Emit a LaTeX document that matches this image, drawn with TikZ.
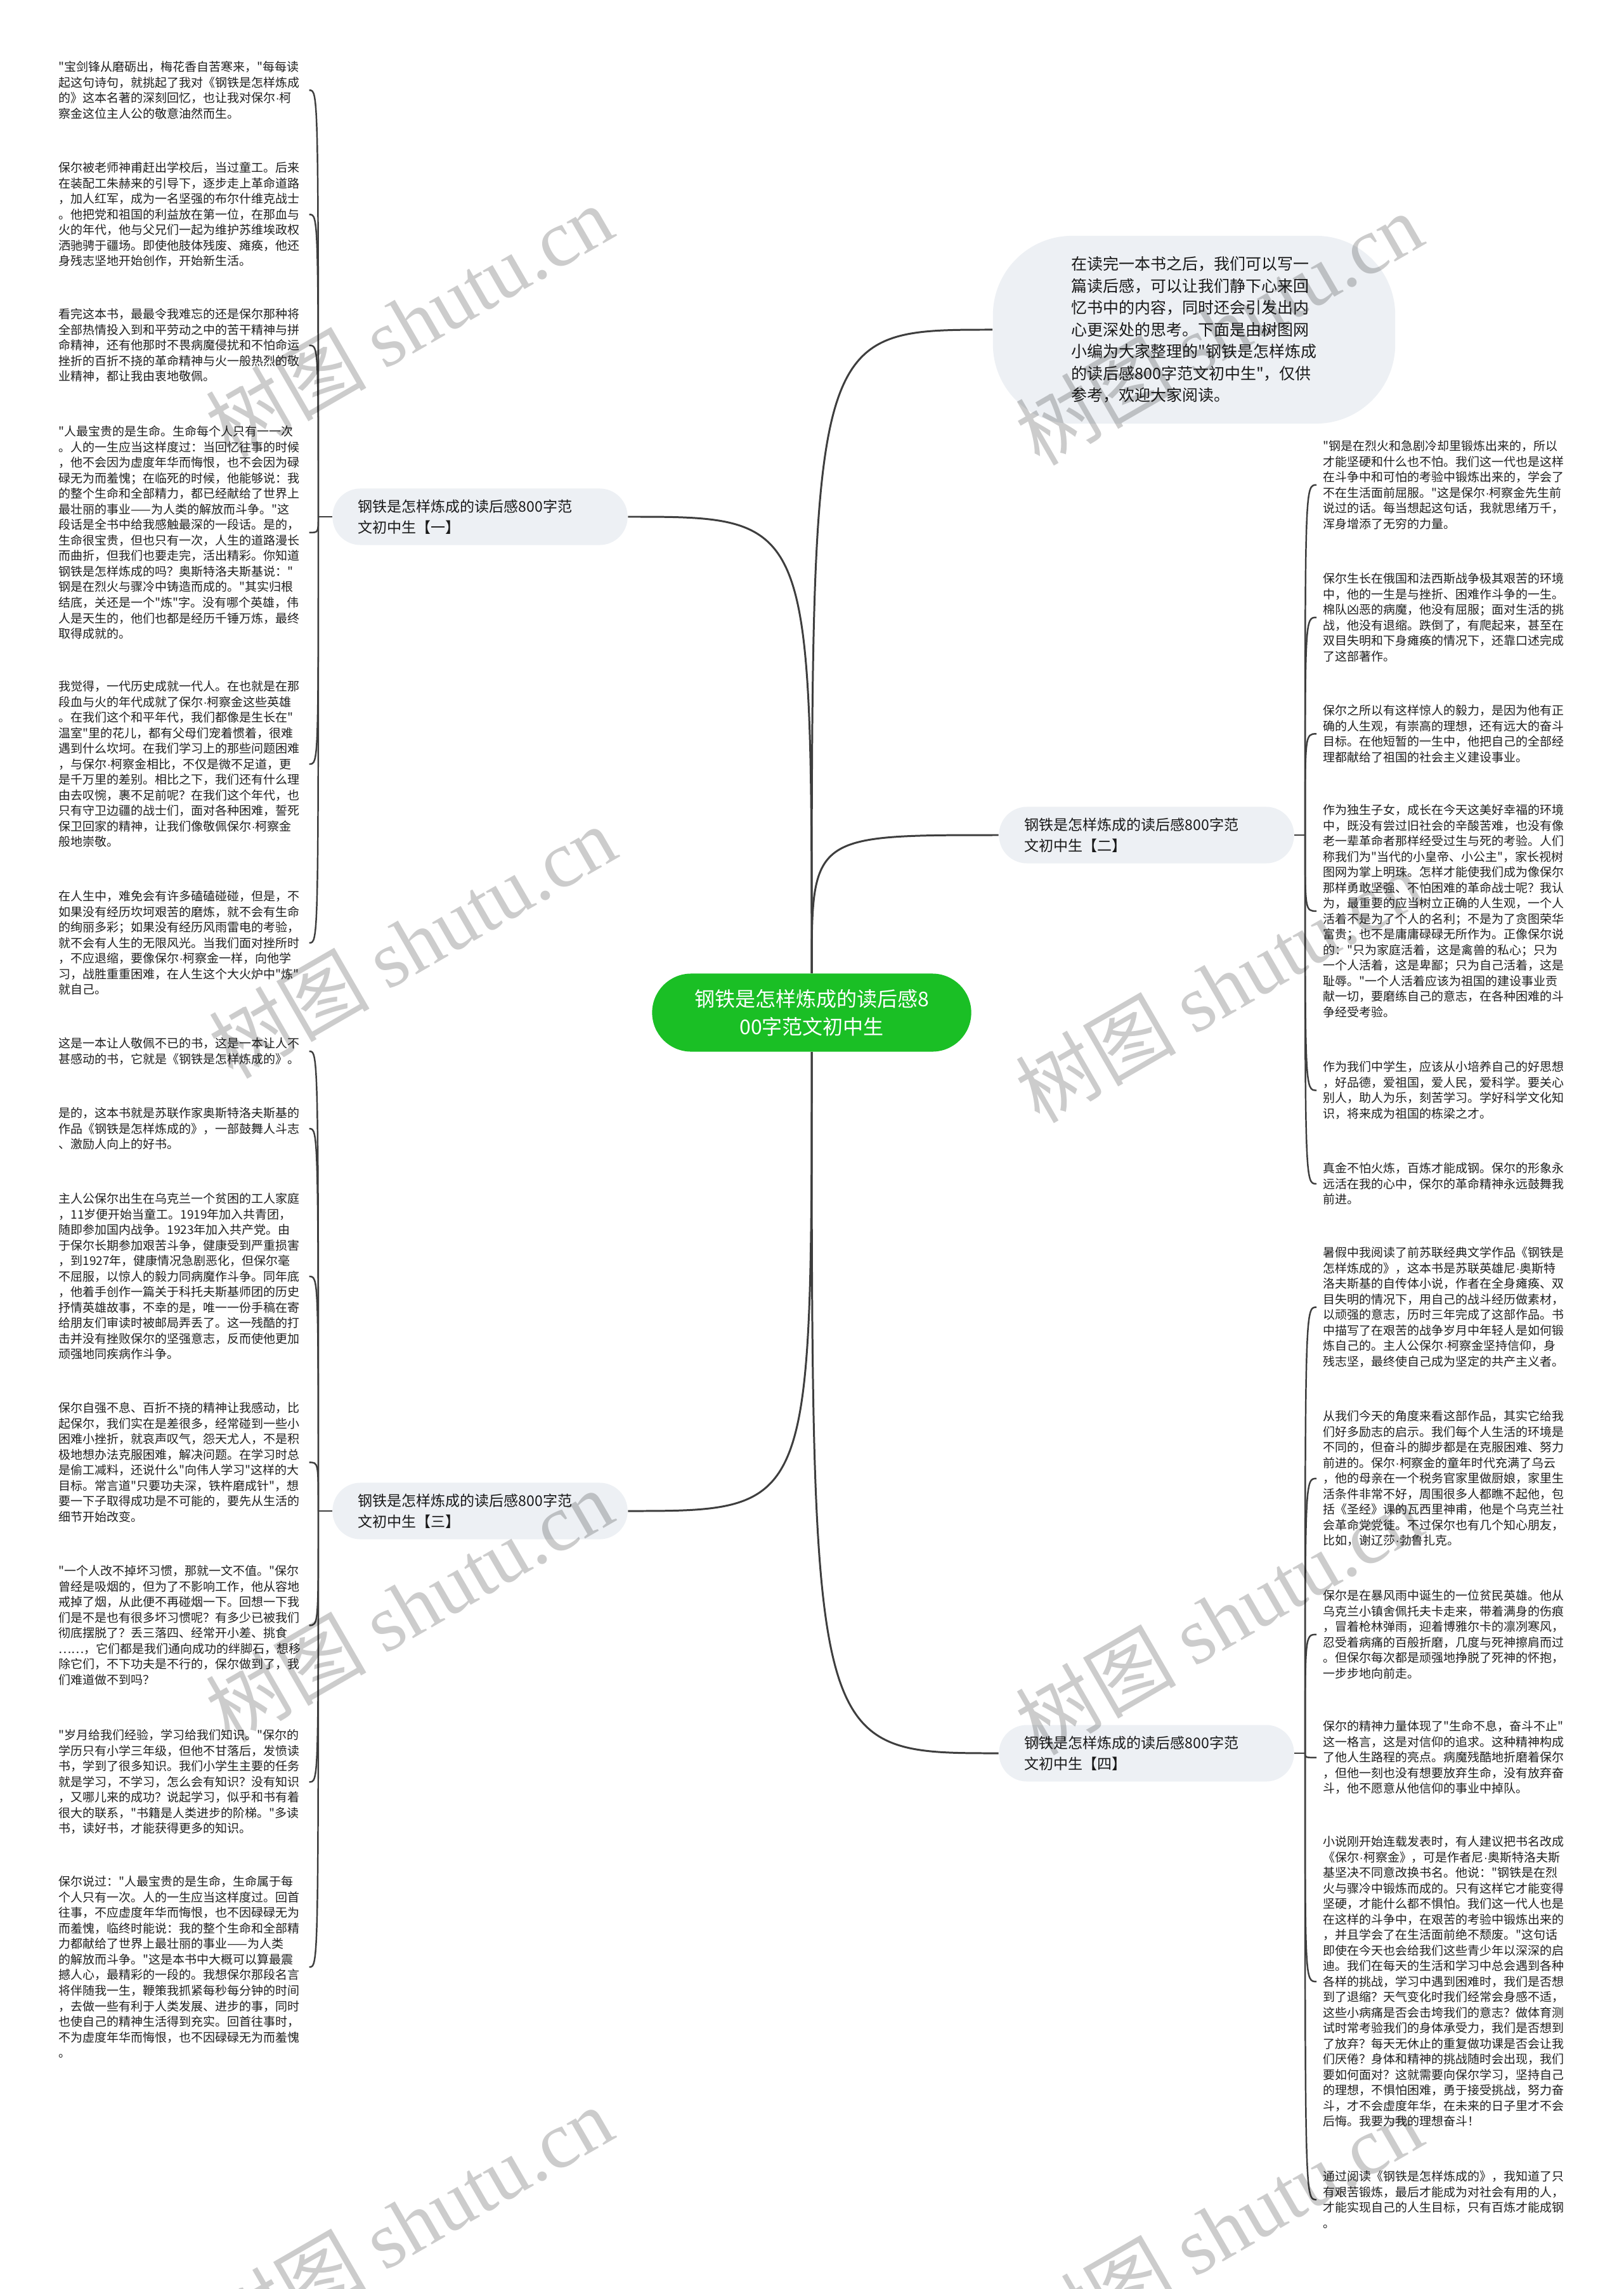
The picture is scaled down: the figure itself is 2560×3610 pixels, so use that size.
\documentclass[tikz,border=0pt]{standalone}
\usepackage{fontspec}
\newfontfamily\cjk{Noto Sans CJK SC}
\newfontfamily\latinf{Liberation Sans}
\newfontfamily\wmserif{Liberation Serif}
\catcode`·=\active
\def·{{\latinf\char"00B7}}
\definecolor{linec}{RGB}{62,62,62}
\definecolor{boxc}{RGB}{237,240,244}
\definecolor{rootc}{RGB}{26,191,37}
\tikzset{
  leafl/.style={anchor=north west, inner xsep=0.1cm, inner ysep=0pt, text width=3.84cm, align=left,
    font=\cjk\fontsize{5.4pt}{6.97pt}\selectfont, text=black!88},
  branchbox/.style={rectangle, rounded corners=0.44cm, fill=boxc, text width=3.85cm, inner xsep=0.4cm,
    inner ysep=0pt, minimum height=0.89cm, align=left, font=\cjk\fontsize{6.55pt}{9.4pt}\selectfont, text=black!90},
  rootbox/.style={rectangle, rounded corners=0.615cm, fill=rootc, minimum width=5.03cm, minimum height=1.23cm,
    text=white, align=center, font=\cjk\fontsize{9.1pt}{12.5pt}\selectfont},
  introbox/.style={rectangle, rounded corners=1.25cm, fill=boxc, minimum width=6.34cm, minimum height=2.96cm,
    align=left, font=\cjk\fontsize{7.1pt}{9.8pt}\selectfont, text=black!90},
  mainline/.style={draw=linec, line width=0.85pt},
  leafline/.style={draw=linec, line width=0.7pt},
  wm/.style={rotate=30, text=black, text opacity=0.2, font=\cjk\fontsize{36pt}{40pt}\selectfont}
}
\begin{document}
\begin{tikzpicture}[x=0.01cm,y=-0.01cm]
\path[use as bounding box, fill=white] (0,0) rectangle (2560,3610);

% root and branches
\node[rootbox] (root) at (1280,1597) {钢铁是怎样炼成的读后感8\\00字范文初中生};
\node[introbox] (intro) at (1883,520) {在读完一本书之后，我们可以写一\\篇读后感，可以让我们静下心来回\\忆书中的内容，同时还会引发出内\\心更深处的思考。下面是由树图网\\小编为大家整理的"钢铁是怎样炼成\\的读后感800字范文初中生"，仅供\\参考，欢迎大家阅读。};
\node[branchbox] (b1) at (757,815) {钢铁是怎样炼成的读后感800字范\\文初中生【一】};
\node[branchbox] (b2) at (1808,1317) {钢铁是怎样炼成的读后感800字范\\文初中生【二】};
\node[branchbox] (b3) at (757,2383) {钢铁是怎样炼成的读后感800字范\\文初中生【三】};
\node[branchbox] (b4) at (1808,2765) {钢铁是怎样炼成的读后感800字范\\文初中生【四】};

\coordinate (j1) at (502,815);
\coordinate (j2) at (2058,1317);
\coordinate (j3) at (502,2383);
\coordinate (j4) at (2058,2765);

% left leaves, branch 1
\node[leafl] (l1) at (82,96) {"宝剑锋从磨砺出，梅花香自苦寒来，"每每读\\起这句诗句，就挑起了我对《钢铁是怎样炼成\\的》这本名著的深刻回忆，也让我对保尔·柯\\察金这位主人公的敬意油然而生。};
\node[leafl] (l2) at (82,255) {保尔被老师神甫赶出学校后，当过童工。后来\\在装配工朱赫来的引导下，逐步走上革命道路\\，加人红军，成为一名坚强的布尔什维克战士\\。他把党和祖国的利益放在第一位，在那血与\\火的年代，他与父兄们一起为维护苏维埃政权\\洒驰骋于疆场。即使他肢体残废、瘫痪，他还\\身残志坚地开始创作，开始新生活。};
\node[leafl] (l3) at (82,486) {看完这本书，最最令我难忘的还是保尔那种将\\全部热情投入到和平劳动之中的苦干精神与拼\\命精神，还有他那时不畏病魔侵扰和不怕命运\\挫折的百折不挠的革命精神与火一般热烈的敬\\业精神，都让我由衷地敬佩。};
\node[leafl] (l4) at (82,671) {"人最宝贵的是生命。生命每个人只有一一次\\。人的一生应当这样度过：当回忆往事的时候\\，他不会因为虚度年华而悔恨，也不会因为碌\\碌无为而羞愧；在临死的时候，他能够说：我\\的整个生命和全部精力，都已经献给了世界上\\最壮丽的事业——为人类的解放而斗争。"这\\段话是全书中给我感触最深的一段话。是的，\\生命很宝贵，但也只有一次，人生的道路漫长\\而曲折，但我们也要走完，活出精彩。你知道\\钢铁是怎样炼成的吗？奥斯特洛夫斯基说："\\钢是在烈火与骤冷中铸造而成的。"其实归根\\结底，关还是一个"炼"字。没有哪个英雄，伟\\人是天生的，他们也都是经历千锤万炼，最终\\取得成就的。};
\node[leafl] (l5) at (82,1073) {我觉得，一代历史成就一代人。在也就是在那\\段血与火的年代成就了保尔·柯察金这些英雄\\。在我们这个和平年代，我们都像是生长在"\\温室"里的花儿，都有父母们宠着惯着，很难\\遇到什么坎坷。在我们学习上的那些问题困难\\，与保尔·柯察金相比，不仅是微不足道，更\\是千万里的差别。相比之下，我们还有什么理\\由去叹惋，裹不足前呢？在我们这个年代，也\\只有守卫边疆的战士们，面对各种困难，誓死\\保卫回家的精神，让我们像敬佩保尔·柯察金\\般地崇敬。};
\node[leafl] (l6) at (82,1404) {在人生中，难免会有许多磕磕碰碰，但是，不\\如果没有经历坎坷艰苦的磨炼，就不会有生命\\的绚丽多彩；如果没有经历风雨雷电的考验，\\就不会有人生的无限风光。当我们面对挫所时\\，不应退缩，要像保尔·柯察金一样，向他学\\习，战胜重重困难，在人生这个大火炉中"炼"\\就自己。};

% left leaves, branch 3
\node[leafl] (l7) at (82,1636) {这是一本让人敬佩不已的书，这是一本让人不\\甚感动的书，它就是《钢铁是怎样炼成的》。};
\node[leafl] (l8) at (82,1746) {是的，这本书就是苏联作家奥斯特洛夫斯基的\\作品《钢铁是怎样炼成的》，一部鼓舞人斗志\\、激励人向上的好书。};
\node[leafl] (l9) at (82,1881) {主人公保尔出生在乌克兰一个贫困的工人家庭\\，11岁便开始当童工。1919年加入共青团，\\随即参加国内战争。1923年加入共产党。由\\于保尔长期参加艰苦斗争，健康受到严重损害\\，到1927年，健康情况急剧恶化，但保尔毫\\不屈服，以惊人的毅力同病魔作斗争。同年底\\，他着手创作一篇关于科托夫斯基师团的历史\\抒情英雄故事，不幸的是，唯一一份手稿在寄\\给朋友们审读时被邮局弄丢了。这一残酷的打\\击并没有挫败保尔的坚强意志，反而使他更加\\顽强地同疾病作斗争。};
\node[leafl] (l10) at (82,2211) {保尔自强不息、百折不挠的精神让我感动，比\\起保尔，我们实在是差很多，经常碰到一些小\\困难小挫折，就哀声叹气，怨天尤人，不是积\\极地想办法克服困难，解决问题。在学习时总\\是偷工减料，还说什么"向伟人学习"这样的大\\目标。常言道"只要功夫深，铁杵磨成针"，想\\要一下子取得成功是不可能的，要先从生活的\\细节开始改变。};
\node[leafl] (l11) at (82,2468) {"一个人改不掉坏习惯，那就一文不值。"保尔\\曾经是吸烟的，但为了不影响工作，他从容地\\戒掉了烟，从此便不再碰烟一下。回想一下我\\们是不是也有很多坏习惯呢？有多少已被我们\\彻底摆脱了？丢三落四、经常开小差、挑食\\……，它们都是我们通向成功的绊脚石，想移\\除它们，不下功夫是不行的，保尔做到了，我\\们难道做不到吗？};
\node[leafl] (l12) at (82,2727) {"岁月给我们经验，学习给我们知识。"保尔的\\学历只有小学三年级，但他不甘落后，发愤读\\书，学到了很多知识。我们小学生主要的任务\\就是学习，不学习，怎么会有知识？没有知识\\，又哪儿来的成功？说起学习，似乎和书有着\\很大的联系，"书籍是人类进步的阶梯。"多读\\书，读好书，才能获得更多的知识。};
\node[leafl] (l13) at (82,2958) {保尔说过："人最宝贵的是生命，生命属于每\\个人只有一次。人的一生应当这样度过。回首\\往事，不应虚度年华而悔恨，也不因碌碌无为\\而羞愧，临终时能说：我的整个生命和全部精\\力都献给了世界上最壮丽的事业——为人类\\的解放而斗争。"这是本书中大概可以算最震\\撼人心，最精彩的一段的。我想保尔那段名言\\将伴随我一生，鞭策我抓紧每秒每分钟的时间\\，去做一些有利于人类发展、进步的事，同时\\也使自己的精神生活得到充实。回首往事时，\\不为虚度年华而悔恨，也不因碌碌无为而羞愧\\。};

% right leaves, branch 2
\node[leafl] (r1) at (2076,694) {"钢是在烈火和急剧冷却里锻炼出来的，所以\\才能坚硬和什么也不怕。我们这一代也是这样\\在斗争中和可怕的考验中锻炼出来的，学会了\\不在生活面前屈服。"这是保尔·柯察金先生前\\说过的话。每当想起这句话，我就思绪万千，\\浑身增添了无穷的力量。};
\node[leafl] (r2) at (2076,903) {保尔生长在俄国和法西斯战争极其艰苦的环境\\中，他的一生是与挫折、困难作斗争的一生。\\棉队凶恶的病魔，他没有屈服；面对生活的挑\\战，他没有退缩。跌倒了，有爬起来，甚至在\\双目失明和下身瘫痪的情况下，还靠口述完成\\了这部著作。};
\node[leafl] (r3) at (2076,1111) {保尔之所以有这样惊人的毅力，是因为他有正\\确的人生观，有崇高的理想，还有远大的奋斗\\目标。在他短暂的一生中，他把自己的全部经\\理都献给了祖国的社会主义建设事业。};
\node[leafl] (r4) at (2076,1268) {作为独生子女，成长在今天这美好幸福的环境\\中，既没有尝过旧社会的辛酸苦难，也没有像\\老一辈革命者那样经受过生与死的考验。人们\\称我们为"当代的小皇帝、小公主"，家长视树\\图网为掌上明珠。怎样才能使我们成为像保尔\\那样勇敢坚强、不怕困难的革命战士呢？我认\\为，最重要的应当树立正确的人生观，一个人\\活着不是为了个人的名利；不是为了贪图荣华\\富贵；也不是庸庸碌碌无所作为。正像保尔说\\的："只为家庭活着，这是禽兽的私心；只为\\一个人活着，这是卑鄙；只为自己活着，这是\\耻辱。"一个人活着应该为祖国的建设事业贡\\献一切，要磨练自己的意志，在各种困难的斗\\争经受考验。};
\node[leafl] (r5) at (2076,1673) {作为我们中学生，应该从小培养自己的好思想\\，好品德，爱祖国，爱人民，爱科学。要关心\\别人，助人为乐，刻苦学习。学好科学文化知\\识，将来成为祖国的栋梁之才。};
\node[leafl] (r6) at (2076,1833) {真金不怕火炼，百炼才能成钢。保尔的形象永\\远活在我的心中，保尔的革命精神永远鼓舞我\\前进。};

% right leaves, branch 4
\node[leafl] (r7) at (2076,1966) {暑假中我阅读了前苏联经典文学作品《钢铁是\\怎样炼成的》，这本书是苏联英雄尼·奥斯特\\洛夫斯基的自传体小说，作者在全身瘫痪、双\\目失明的情况下，用自己的战斗经历做素材，\\以顽强的意志，历时三年完成了这部作品。书\\中描写了在艰苦的战争岁月中年轻人是如何锻\\炼自己的。主人公保尔·柯察金坚持信仰，身\\残志坚，最终使自己成为坚定的共产主义者。};
\node[leafl] (r8) at (2076,2224) {从我们今天的角度来看这部作品，其实它给我\\们好多励志的启示。我们每个人生活的环境是\\不同的，但奋斗的脚步都是在克服困难、努力\\前进的。保尔·柯察金的童年时代充满了乌云\\，他的母亲在一个税务官家里做厨娘，家里生\\活条件非常不好，周围很多人都瞧不起他，包\\括《圣经》课的瓦西里神甫，他是个乌克兰社\\会革命党党徒。不过保尔也有几个知心朋友，\\比如，谢辽莎·勃鲁扎克。};
\node[leafl] (r9) at (2076,2507) {保尔是在暴风雨中诞生的一位贫民英雄。他从\\乌克兰小镇舍佩托夫卡走来，带着满身的伤痕\\，冒着枪林弹雨，迎着博雅尔卡的凛冽寒风，\\忍受着病痛的百般折磨，几度与死神擦肩而过\\。但保尔每次都是顽强地挣脱了死神的怀抱，\\一步步地向前走。};
\node[leafl] (r10) at (2076,2713) {保尔的精神力量体现了"生命不息，奋斗不止"\\这一格言，这是对信仰的追求。这种精神构成\\了他人生路程的亮点。病魔残酷地折磨着保尔\\，但他一刻也没有想要放弃生命，没有放弃奋\\斗，他不愿意从他信仰的事业中掉队。};
\node[leafl] (r11) at (2076,2895) {小说刚开始连载发表时，有人建议把书名改成\\《保尔·柯察金》，可是作者尼·奥斯特洛夫斯\\基坚决不同意改换书名。他说："钢铁是在烈\\火与骤冷中锻炼而成的。只有这样它才能变得\\坚硬，才能什么都不惧怕。我们这一代人也是\\在这样的斗争中，在艰苦的考验中锻炼出来的\\，并且学会了在生活面前绝不颓废。"这句话\\即使在今天也会给我们这些青少年以深深的启\\迪。我们在每天的生活和学习中总会遇到各种\\各样的挑战，学习中遇到困难时，我们是否想\\到了退缩？天气变化时我们经常会身感不适，\\这些小病痛是否会击垮我们的意志？做体育测\\试时常考验我们的身体承受力，我们是否想到\\了放弃？每天无休止的重复做功课是否会让我\\们厌倦？身体和精神的挑战随时会出现，我们\\要如何面对？这就需要向保尔学习，坚持自己\\的理想，不惧怕困难，勇于接受挑战，努力奋\\斗，才不会虚度年华，在未来的日子里才不会\\后悔。我要为我的理想奋斗！};
\node[leafl] (r12) at (2076,3423) {通过阅读《钢铁是怎样炼成的》，我知道了只\\有艰苦锻炼，最后才能成为对社会有用的人，\\才能实现自己的人生目标，只有百炼才能成钢\\。};

% main connectors
\draw[mainline] (root.north) .. controls (root.north |- intro.west) .. (intro.west);
\draw[mainline] (root.north) .. controls (root.north |- b1.east) .. (b1.east);
\draw[mainline] (root.north) .. controls (root.north |- b2.west) .. (b2.west);
\draw[mainline] (root.south) .. controls (root.south |- b3.east) .. (b3.east);
\draw[mainline] (root.south) .. controls (root.south |- b4.west) .. (b4.west);

% branch stubs
\draw[leafline] (b1.west) -- (j1);
\draw[leafline] (b2.east) -- (j2);
\draw[leafline] (b3.west) -- (j3);
\draw[leafline] (b4.east) -- (j4);

% leaf connectors
\foreach \n in {l1,l2,l3,l4,l5,l6}
  \draw[leafline] (j1) .. controls (j1 |- \n.east) .. (\n.east);
\foreach \n in {l7,l8,l9,l10,l11,l12,l13}
  \draw[leafline] (j3) .. controls (j3 |- \n.east) .. (\n.east);
\foreach \n in {r1,r2,r3,r4,r5,r6}
  \draw[leafline] (j2) .. controls (j2 |- \n.west) .. (\n.west);
\foreach \n in {r7,r8,r9,r10,r11,r12}
  \draw[leafline] (j4) .. controls (j4 |- \n.west) .. (\n.west);

% watermarks
\node[wm] (w1) at (645,506) {树图 {\wmserif shutu.cn}};
\node[wm] (w2) at (1922,518) {树图 {\wmserif shutu.cn}};
\node[wm] (w3) at (650,1485) {树图 {\wmserif shutu.cn}};
\node[wm] (w4) at (1922,1555) {树图 {\wmserif shutu.cn}};
\node[wm] (w5) at (645,2532) {树图 {\wmserif shutu.cn}};
\node[wm] (w6) at (1922,2552) {树图 {\wmserif shutu.cn}};
\node[wm] (w7) at (645,3505) {树图 {\wmserif shutu.cn}};
\node[wm] (w8) at (1922,3515) {树图 {\wmserif shutu.cn}};
\end{tikzpicture}
\end{document}
